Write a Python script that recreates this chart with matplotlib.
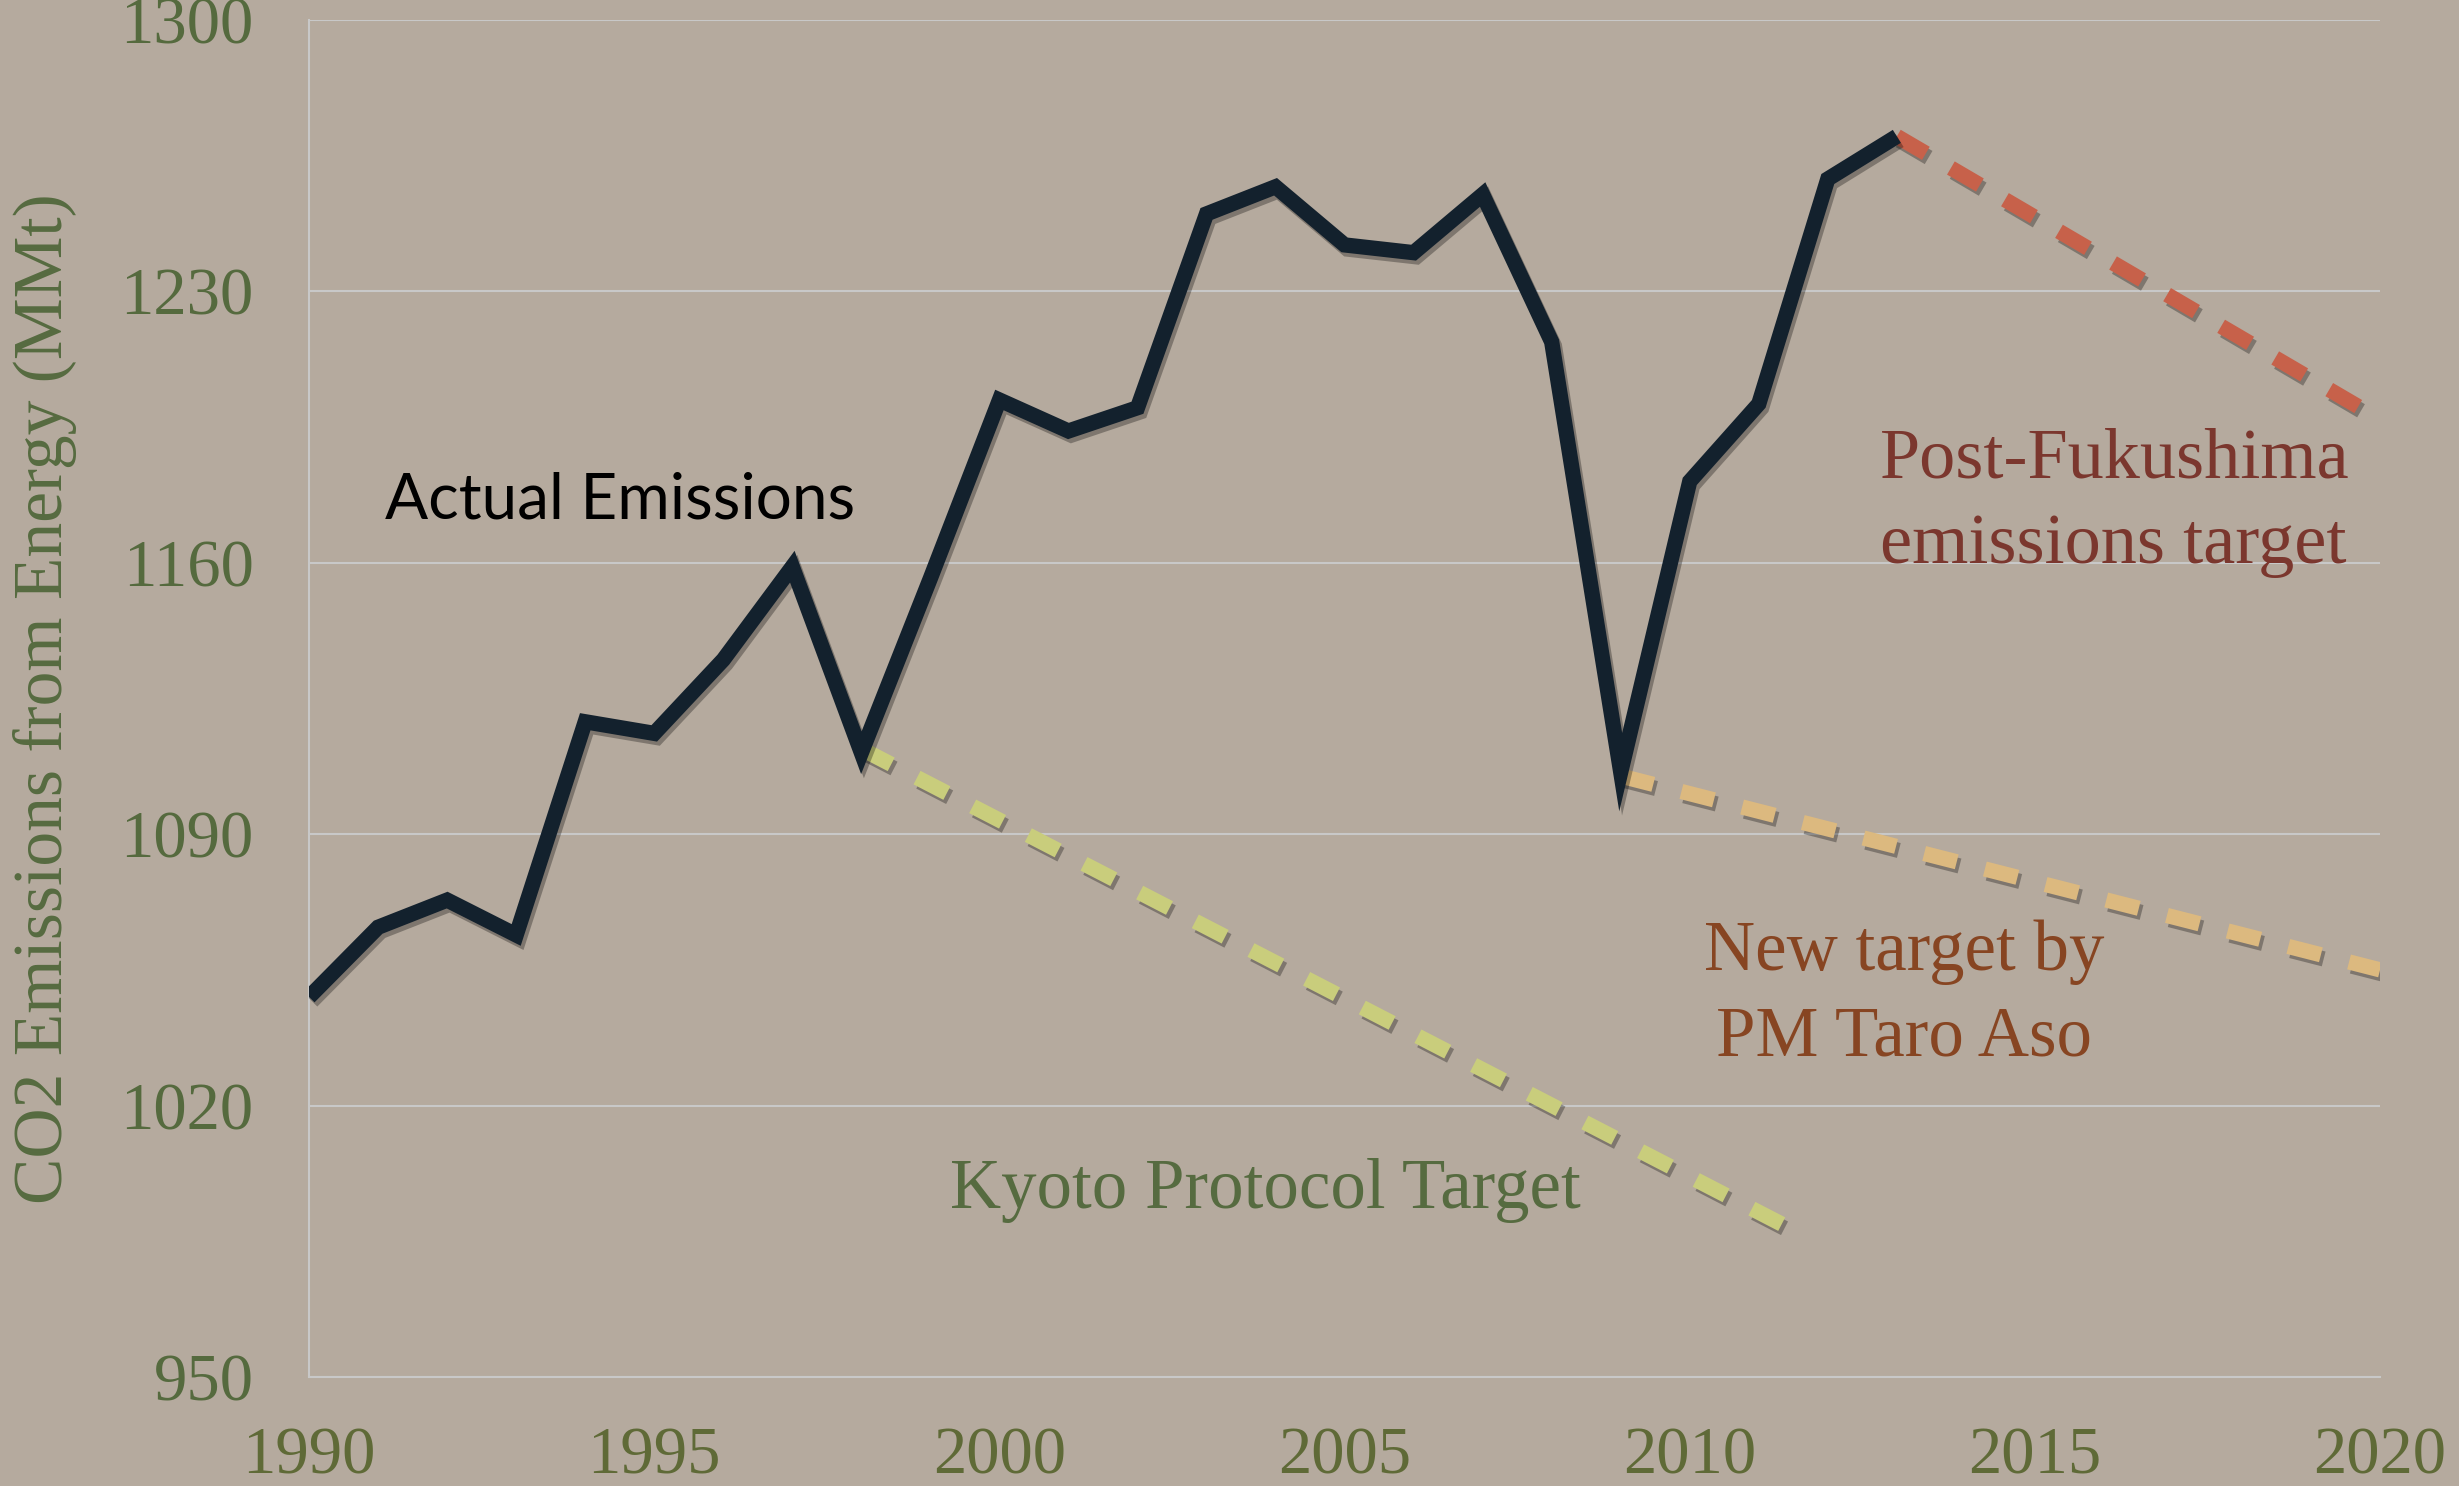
import matplotlib
matplotlib.use("Agg")
import matplotlib.pyplot as plt
import matplotlib.patheffects as pe

years = list(range(1990, 2014))
emissions = [1048, 1066, 1073, 1064, 1119, 1116, 1135, 1159, 1111, 1156,
             1202, 1194, 1200, 1250, 1257, 1242, 1240, 1255, 1217, 1106,
             1181, 1201, 1259, 1270]

kyoto_years = [1998, 2011.65]
kyoto_vals = [1112, 986.5]
aso_years = [2009, 2020]
aso_vals = [1105, 1055]
fuku_years = [2013, 2020]
fuku_vals = [1270, 1197]

yticks = [950, 1020, 1090, 1160, 1230, 1300]
xticks = [1990, 1995, 2000, 2005, 2010, 2015, 2020]

BG = "#b5aa9e"
GRID = "#c8c8c8"
SERIF = ["Liberation Serif", "DejaVu Serif"]

fig = plt.figure(figsize=(24.59, 14.86), dpi=100, facecolor=BG)
ax = fig.add_axes([0.1257, 0.0734, 0.9679 - 0.1257, 0.9865 - 0.0734])
ax.set_facecolor(BG)
ax.set_xlim(1990, 2020)
ax.set_ylim(950, 1300)

ax.set_yticks(yticks)
ax.set_xticks(xticks)
ax.grid(axis="y", color=GRID, linewidth=1.5, zorder=0)
for s in ["top", "right"]:
    ax.spines[s].set_visible(False)
ax.spines["left"].set_color(GRID)
ax.spines["left"].set_linewidth(1.5)
ax.spines["bottom"].set_color(GRID)
ax.spines["bottom"].set_linewidth(1.5)
ax.tick_params(length=0)
for lab in ax.get_yticklabels():
    lab.set_fontfamily(SERIF)
    lab.set_fontsize(48)
    lab.set_color("#556a3e")
for lab in ax.get_xticklabels():
    lab.set_fontfamily(SERIF)
    lab.set_fontsize(48)
    lab.set_color("#5f6a37")
ax.tick_params(axis="y", pad=40)
ax.tick_params(axis="x", pad=36)

ax.set_ylabel("CO2 Emissions from Energy (MMt)", fontfamily=SERIF,
              fontsize=50, color="#566b40")
ax.yaxis.set_label_coords(-0.112, 0.5)

shadow = [pe.SimpleLineShadow(offset=(2, -3), shadow_color="black", alpha=0.3), pe.Normal()]

ax.plot(kyoto_years, kyoto_vals, color="#c9cd7c", linewidth=11,
        dashes=(2.2, 1.9), dash_capstyle="butt", path_effects=shadow, zorder=3)
ax.plot(aso_years, aso_vals, color="#dcb97f", linewidth=11,
        dashes=(2.2, 1.9), dash_capstyle="butt", path_effects=shadow, zorder=3)
ax.plot(fuku_years, fuku_vals, color="#c7614a", linewidth=11,
        dashes=(2.2, 1.9), dash_capstyle="butt", path_effects=shadow, zorder=3)
ax.plot(years, emissions, color="#13212d", linewidth=11,
        solid_joinstyle="miter", solid_capstyle="butt",
        path_effects=shadow, zorder=4)

ax.text(1991.1, 1176, "Actual Emissions", fontfamily=["Lato", "DejaVu Sans"],
        fontsize=46, color="black", ha="left", va="center", zorder=5)
ax.text(2012.75, 1175.5, "Post-Fukushima\nemissions target", fontfamily=SERIF,
        fontsize=52, color="#7b372e", ha="left", va="center",
        linespacing=1.4, zorder=5)
ax.text(2013.1, 1048.5, "New target by\nPM Taro Aso", fontfamily=SERIF,
        fontsize=51, color="#874522", ha="center", va="center",
        linespacing=1.4, zorder=5)
ax.text(2003.85, 998, "Kyoto Protocol Target", fontfamily=SERIF,
        fontsize=51, color="#566b40", ha="center", va="center", zorder=5)

fig.savefig("out.png", dpi=100, facecolor=BG)
